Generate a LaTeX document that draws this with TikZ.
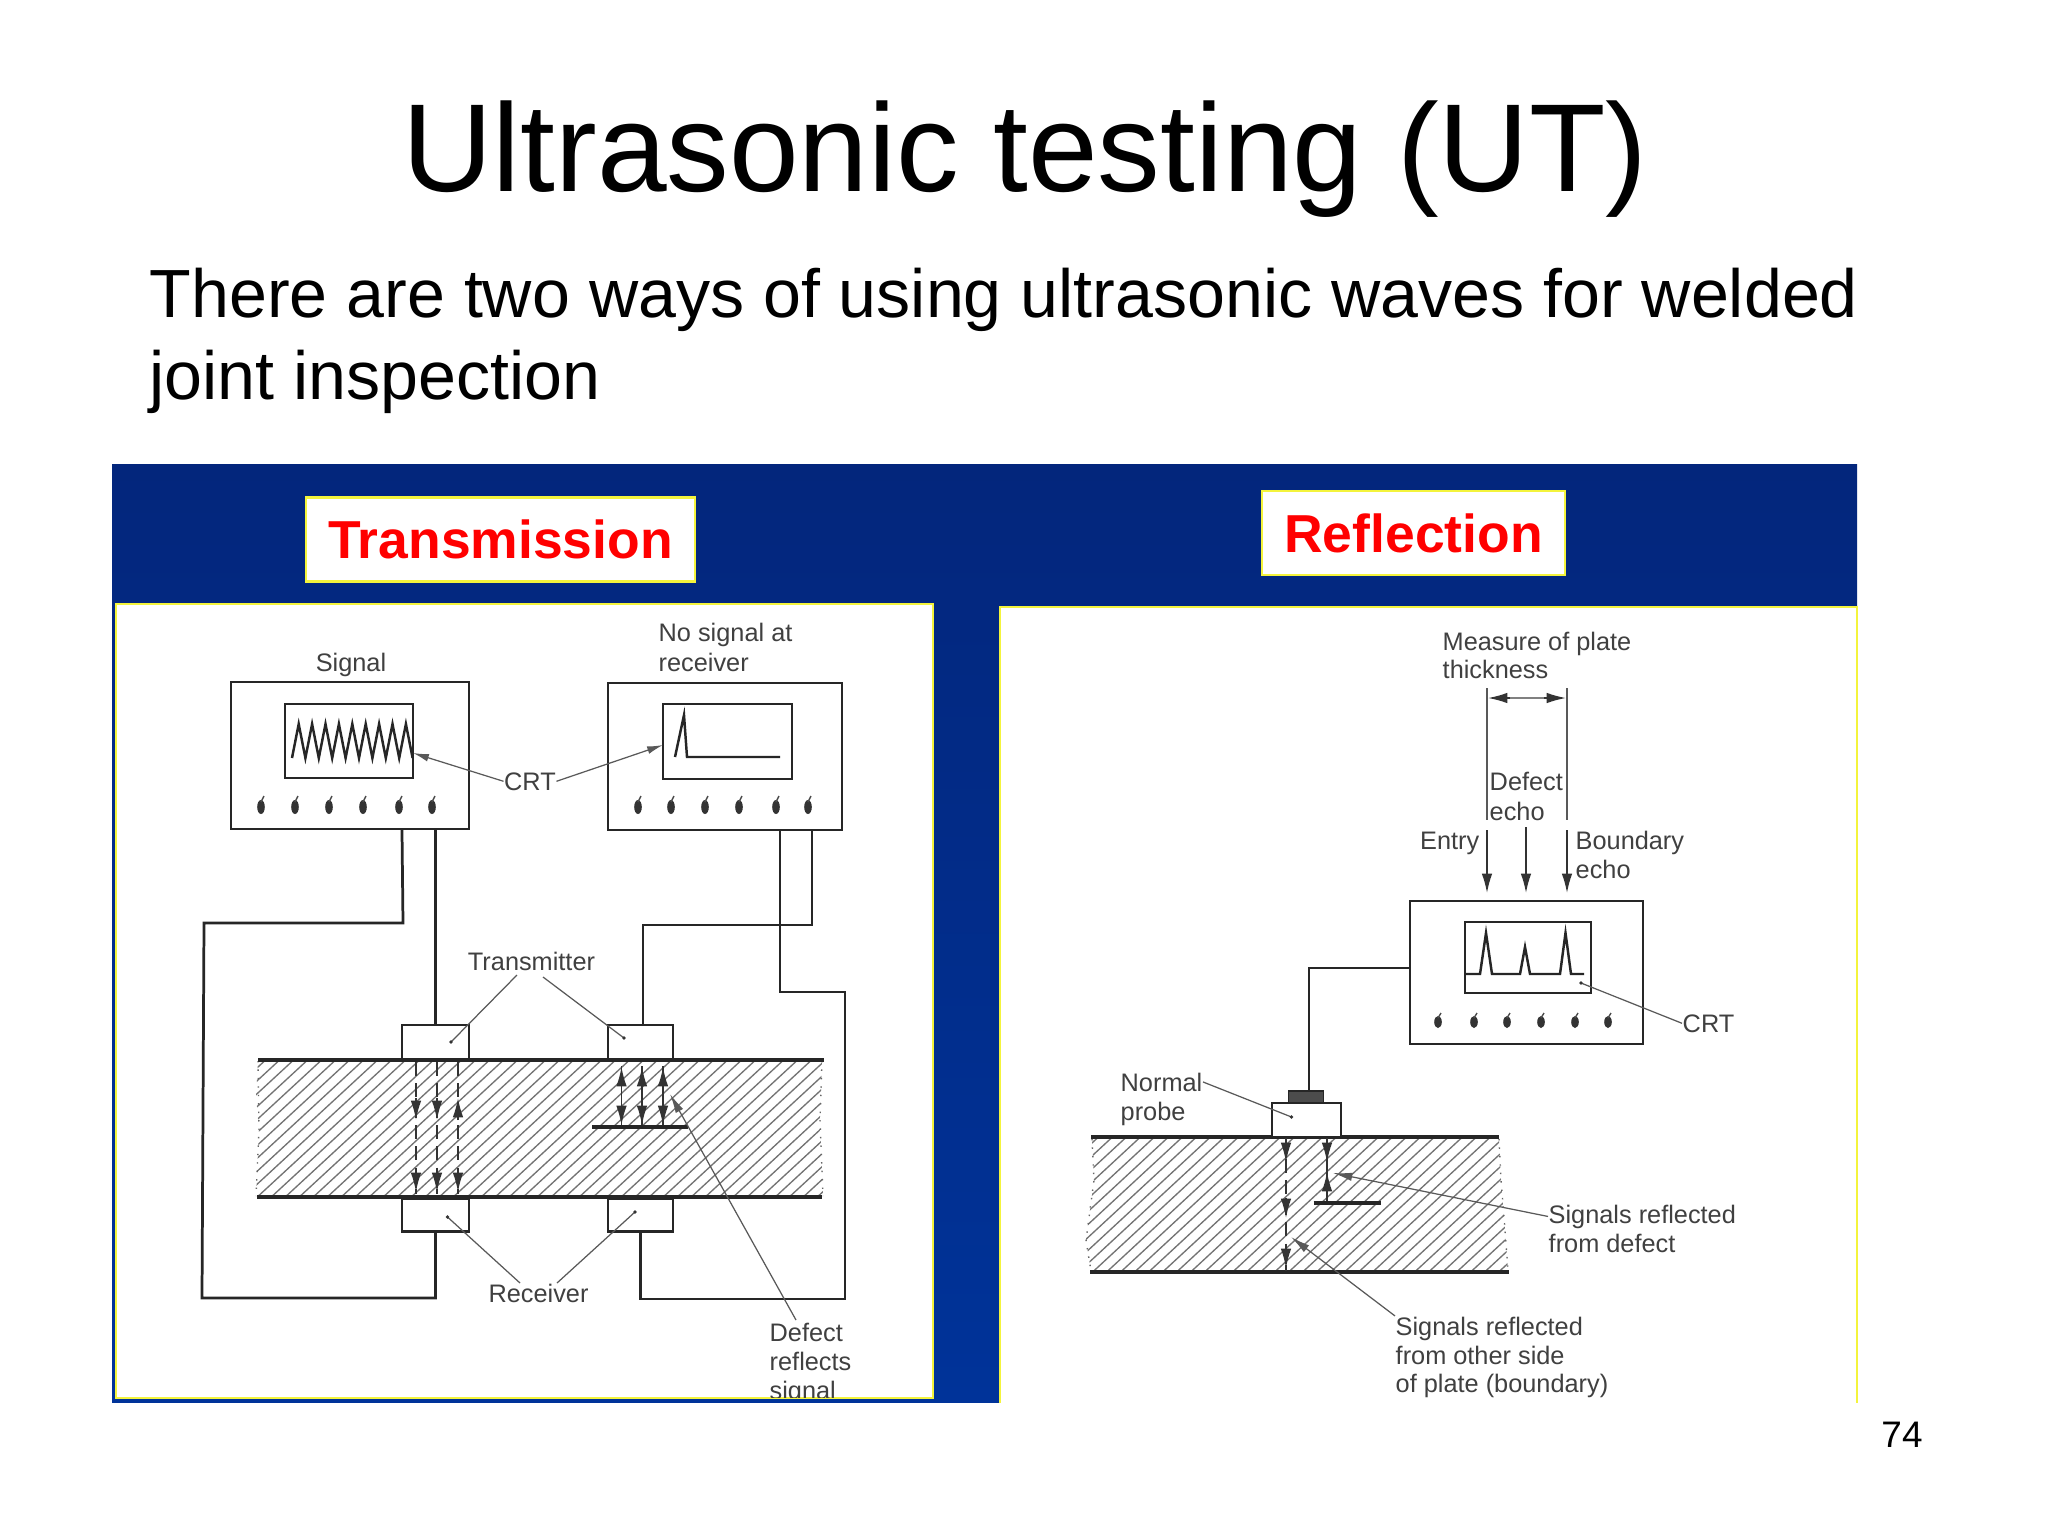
\documentclass[tikz,border=0pt]{standalone}
\usepackage{fontspec}
\setmainfont{Liberation Sans}
\usepackage{xcolor}
\usepackage{tikz}
\usetikzlibrary{arrows.meta}
\definecolor{slideblue}{HTML}{003399}
\definecolor{slidenavy}{HTML}{03267C}
\definecolor{panelyellow}{HTML}{F4F43C}
\tikzset{
    wire/.style={line width=0.78pt, black!85},
    scopebox/.style={draw=black!85, line width=0.78pt, fill=white, inner sep=0pt, outer sep=0pt},
    probebox/.style={draw=black!85, line width=0.78pt, fill=white, inner sep=0pt, outer sep=0pt},
    headbox/.style={draw=panelyellow, line width=0.7pt, fill=white, font=\fontsize{15.2}{18}\selectfont\bfseries, text=red, inner sep=0pt, outer sep=0pt},
    lbl/.style={font=\fontsize{7.2}{9}\selectfont, text=black!75, inner sep=0pt, anchor=base west},
    leader/.style={line width=0.35pt, black!65},
    tipline/.style={line width=0.45pt, black!80, -{Latex[length=5.5pt,width=3pt]}},
    hatchline/.style={line width=0.38pt, black!55},
}
\begin{document}
\begin{tikzpicture}[x=0.01cm, y=-0.01cm]
    \useasboundingbox (0,0) rectangle (2048,1536);
    \fill[white] (0,0) rectangle (2048,1536);

    % slide text
    \node[font=\fontsize{35.6}{40}\selectfont, inner sep=0pt, anchor=base] (title) at (1025,191) {Ultrasonic testing (UT)};
    \node[font=\fontsize{19.38}{24}\selectfont, inner sep=0pt, anchor=base west] (introa) at (149,317) {There are two ways of using ultrasonic waves for welded};
    \node[font=\fontsize{19.38}{24}\selectfont, inner sep=0pt, anchor=base west] (introb) at (149,399) {joint inspection};
    \node[font=\fontsize{10.5}{12}\selectfont, inner sep=0pt, anchor=base] (pageno) at (1902,1447) {74};

    % blue sheet and panels
    \shade[top color=slidenavy, bottom color=slideblue] (112,464) rectangle (1857,1402);
    \draw[fill=white, draw=panelyellow, line width=0.7pt] (116,604) rectangle (933,1398);
    \fill[white] (999,607) rectangle (1858,1405);
    \draw[draw=panelyellow, line width=0.7pt] (1000,1403) -- (1000,607) -- (1857,607) -- (1857,1403);
    \node[headbox, minimum width=3.89cm, minimum height=0.84cm] (transhead) at (500.5,539.5) {Transmission};
    \node[headbox, minimum width=3.03cm, minimum height=0.84cm] (reflhead) at (1413.5,533) {Reflection};

    % transmission: hatched plate
    \begin{scope}
        \clip (258,1061) -- (822,1061) -- (820,1120) -- (823,1196) -- (256,1196) -- (259,1130) -- (256,1095) -- cycle;
        \foreach \i in {0,...,55} {
            \draw[hatchline] ({100+14*\i},1200) -- ({100+14*\i+157},1055);
        }
    \end{scope}
    \draw[line width=0.4pt, black!60, dotted] (258,1061) -- (259,1130) -- (256,1196);
    \draw[line width=0.4pt, black!60, dotted] (822,1061) -- (820,1120) -- (823,1196);
    \draw[line width=1.3pt, black!85] (258,1060) -- (824,1060);
    \draw[line width=1.3pt, black!85] (257,1197) -- (822,1197);

    % transmission: sets and probes
    \node[scopebox, minimum width=2.38cm, minimum height=1.47cm] (sigbox) at (350,755.5) {};
    \node[scopebox, minimum width=1.28cm, minimum height=0.74cm] (sigcrt) at (349,741) {};
    \node[scopebox, minimum width=2.34cm, minimum height=1.47cm] (nosigbox) at (725,756.5) {};
    \node[scopebox, minimum width=1.29cm, minimum height=0.75cm] (nosigcrt) at (727.5,741.5) {};
    \node[probebox, minimum width=0.67cm, minimum height=0.34cm] (txa) at (435.5,1042) {};
    \node[probebox, minimum width=0.65cm, minimum height=0.34cm] (txb) at (640.5,1042) {};
    \node[probebox, minimum width=0.67cm, minimum height=0.33cm] (rxa) at (435.5,1215) {};
    \node[probebox, minimum width=0.65cm, minimum height=0.33cm] (rxb) at (640.5,1215) {};
    \coordinate (wla) at (204,923);
    \coordinate (wlb) at (202,1298);
    \coordinate (wra) at (845,992);
    \coordinate (wrb) at (845,1299);
    \coordinate (wrc) at (643,925);

    \draw[wire] (sigbox.south -| txa.west) -- (403,923) -- (wla) -- (wlb) -- (rxa.south |- wlb) -- (rxa.south);
    \draw[wire] (sigbox.south -| txa.north) -- (txa.north);
    \draw[wire] (nosigbox.south -| 780,0) -- (780,992) -- (wra) -- (wrb) -- (rxb.south |- wrb) -- (rxb.south);
    \draw[wire] (nosigbox.south -| 812,0) -- (812,925) -- (wrc) -- (txb.north -| wrc);

    % knobs
    \foreach \x in {261,295,329,363,399,432,638,671,705,739,776,808} {
        \fill[black!80] (\x,807) ellipse (3.8 and 7);
        \draw[line width=0.4pt, black!70] (\x,802) -- (\x+3,796);
    }

    % traces
    \draw[line width=0.7pt, black!85, line join=miter] (292,758) \foreach \i in {1,...,9} { -- ++(6.7,-34) -- ++(6.7,34)};
    \draw[line width=0.7pt, black!85] (675,757) -- (684,715) -- (687,757) -- (780,757);

    % echoes in plate
    \foreach \x in {416,437,458} {
        \draw[line width=0.45pt, black!80, dash pattern=on 4pt off 2pt] (\x,1062) -- (\x,1194);
        \draw[tipline] (\x,1170) -- (\x,1192);
    }
    \draw[tipline] (416,1098) -- (416,1120);
    \draw[tipline] (437,1098) -- (437,1120);
    \draw[tipline] (458,1120) -- (458,1098);
    \foreach \x in {621.5,642,663} {
        \draw[line width=0.45pt, black!80] (\x,1066) -- (\x,1127);
        \draw[tipline] (\x,1090) -- (\x,1067);
        \draw[tipline] (\x,1103) -- (\x,1125);
    }
    \draw[line width=0.9pt, black!85] (592,1127) -- (688,1127);

    % transmission labels
    \node[lbl, anchor=base] (siglbl) at (351,671) {Signal};
    \node[lbl] (nosiga) at (658,641) {No signal at};
    \node[lbl] (nosigb) at (658,671) {receiver};
    \node[lbl, anchor=base] (crta) at (530,790) {CRT};
    \node[lbl, anchor=base] (txlbl) at (531.5,970) {Transmitter};
    \node[lbl, anchor=base] (rxlbl) at (538.5,1302) {Receiver};
    \begin{scope}
        \clip (116,604) rectangle (933,1397);
        \node[lbl] (defa) at (769,1341) {Defect};
        \node[lbl] (defb) at (769,1370) {reflects};
        \node[lbl] (defc) at (769,1399) {signal};
    \end{scope}
    \draw[leader, -{Latex[length=4.5pt,width=2.2pt]}] (crta.west) -- (sigcrt.east |- 0,753);
    \draw[leader, -{Latex[length=4.5pt,width=2.2pt]}] (crta.east) -- (nosigcrt.west |- 0,745);
    \draw[leader] (517,975) -- (451,1042);
    \draw[leader] (543,977) -- (624,1038);
    \draw[leader] (520,1283) -- (447.5,1217);
    \draw[leader] (557,1283) -- (635,1212);
    \draw[leader, -{Latex[length=5.5pt,width=2.4pt]}] (796,1320) -- (670,1094);
    \foreach \x/\y in {451/1042,624/1038,447.5/1217,635/1212} {
        \fill[black!80] (\x,\y) circle (1.8);
    }

    % reflection: hatched plate
    \begin{scope}
        \clip (1092,1139) -- (1499,1139) -- (1501,1180) -- (1505,1230) -- (1508,1271) -- (1091,1271) -- (1086,1240) -- (1094,1180) -- cycle;
        \foreach \i in {0,...,42} {
            \draw[hatchline] ({930+14*\i},1280) -- ({930+14*\i+162},1130);
        }
    \end{scope}
    \draw[line width=0.4pt, black!60, dotted] (1092,1139) -- (1094,1180) -- (1086,1240) -- (1091,1271);
    \draw[line width=0.4pt, black!60, dotted] (1499,1139) -- (1501,1180) -- (1505,1230) -- (1508,1271);
    \draw[line width=1.3pt, black!85] (1091,1137) -- (1499,1137);
    \draw[line width=1.3pt, black!85] (1090,1272) -- (1509,1272);

    % reflection: set and probe
    \node[scopebox, minimum width=2.33cm, minimum height=1.43cm] (echobox) at (1526.5,972.5) {};
    \node[scopebox, minimum width=1.26cm, minimum height=0.71cm] (echocrt) at (1528,957.5) {};
    \node[probebox, minimum width=0.69cm, minimum height=0.34cm] (probe) at (1306.5,1120) {};
    \node[draw=black!85, fill=black!70, inner sep=0pt, minimum width=0.35cm, minimum height=0.12cm] (probecap) at (1306,1097) {};
    \coordinate (wec) at (1309,968);
    \draw[wire] (echobox.west |- wec) -- (wec) -- (wec |- probecap.north);

    \foreach \x in {1438,1474,1507,1541,1575,1608} {
        \fill[black!80] (\x,1022) ellipse (3.8 and 6);
        \draw[line width=0.4pt, black!70] (\x,1018) -- (\x+3,1013);
    }
    \draw[line width=0.7pt, black!85] (1465,974) -- (1480,974) -- (1486,933) -- (1492,974) -- (1520,974) -- (1525,947) -- (1530,974) -- (1560,974) -- (1565.5,933) -- (1571,974) -- (1584,974);

    % thickness marks
    \draw[leader] (1487,688) -- (1487,820);
    \draw[leader] (1567,688) -- (1567,820);
    \draw[line width=0.35pt, black!50] (1505,698) -- (1550,698);
    \draw[tipline] (1510,698) -- (1488,698);
    \draw[tipline] (1544,698) -- (1566,698);
    \draw[tipline] (1487,830) -- (1487,893);
    \draw[tipline] (1526,827) -- (1526,893);
    \draw[tipline] (1567,830) -- (1567,893);

    % echoes under probe
    \draw[line width=0.45pt, black!80, dash pattern=on 4pt off 2pt] (1286,1138) -- (1286,1271);
    \draw[tipline] (1286,1140) -- (1286,1162);
    \draw[tipline] (1286,1198) -- (1286,1218);
    \draw[tipline] (1286,1244) -- (1286,1268);
    \draw[line width=0.45pt, black!80] (1327,1138) -- (1327,1203);
    \draw[tipline] (1327,1142) -- (1327,1162);
    \draw[tipline] (1327,1195) -- (1327,1172);
    \draw[line width=1.1pt, black!85] (1313.5,1203) -- (1381,1203);

    % reflection labels
    \node[lbl] (measa) at (1442,650) {Measure of plate};
    \node[lbl] (measb) at (1442,678) {thickness};
    \node[lbl] (echoa) at (1489,790) {Defect};
    \node[lbl] (echob) at (1489,820) {echo};
    \node[lbl, anchor=base east] (entry) at (1480,849) {Entry};
    \node[lbl] (bounda) at (1575,849) {Boundary};
    \node[lbl] (boundb) at (1575,878) {echo};
    \node[lbl] (crtb) at (1682,1032) {CRT};
    \node[lbl] (norma) at (1120,1091) {Normal};
    \node[lbl] (normb) at (1120,1120) {probe};
    \node[lbl] (sdefa) at (1548,1223) {Signals reflected};
    \node[lbl] (sdefb) at (1548,1252) {from defect};
    \node[lbl] (sbota) at (1395,1335) {Signals reflected};
    \node[lbl] (sbotb) at (1395,1364) {from other side};
    \node[lbl] (sbotc) at (1395,1392) {of plate (boundary)};
    \draw[leader] (crtb.west) -- (1581,983);
    \fill[black!80] (1581,983) circle (1.8);
    \draw[leader] (norma.east) -- (1291.5,1117);
    \fill[black!80] (1291.5,1117) circle (1.8);
    \draw[leader, -{Latex[length=5.5pt,width=2.4pt]}] (sdefa.west) -- (1333,1173);
    \draw[leader, -{Latex[length=5.5pt,width=2.4pt]}] (sbota.north west) -- (1291,1237);
\end{tikzpicture}
\end{document}
